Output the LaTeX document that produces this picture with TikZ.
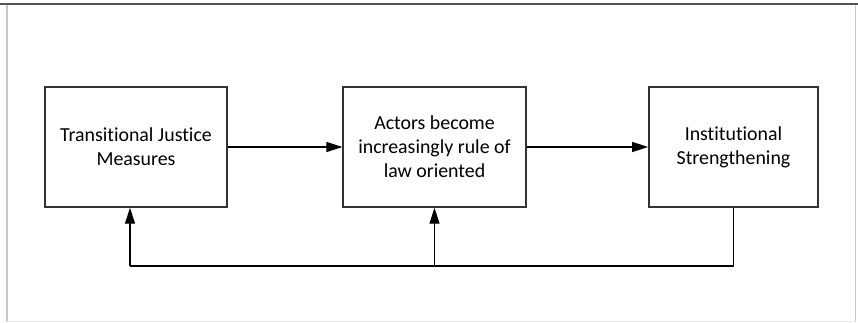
\documentclass[tikz,border=0pt]{standalone}
\usepackage{fontspec}
\setmainfont{Carlito}[Ligatures=NoCommon]
\usetikzlibrary{arrows.meta,positioning}
\definecolor{tjframe}{HTML}{555555}
\definecolor{tjedge}{HTML}{C8C8C8}
\definecolor{tjbox}{HTML}{333333}

\begin{document}
\begin{tikzpicture}[x=0.75pt,y=-0.75pt,
    measure/.style={draw=tjbox, line width=1.1pt, align=center, inner sep=0pt,
      minimum height=90pt, font=\fontsize{14.9}{18}\selectfont},
    flow/.style={-{Triangle[length=12pt,width=7.5pt]}, line width=0.9pt}]
  \useasboundingbox (0,0) rectangle (858,322);
  % frame of the page
  \draw[tjframe, line width=1.6pt] (0,4) -- (858,4);
  \draw[tjedge, line width=1pt] (7,5) -- (7,322);
  \draw[tjedge, line width=1pt] (855.5,5) -- (855.5,322);
  \draw[tjedge!40, line width=0.6pt] (7,321) -- (855.5,321);
  % the three stages
  \node[measure, minimum width=136.5pt] (tj) at (136,147)
    {Transitional Justice\\Measures};
  \node[measure, minimum width=137pt] (actors) at (434.5,147)
    {Actors become\\increasingly rule of\\law oriented};
  \node[measure, minimum width=127pt] (inst) at (733.5,147)
    {Institutional\\Strengthening};
  \draw[flow] (tj) -- (actors);
  \draw[flow] (actors) -- (inst);
  % feedback
  \coordinate (back) at (733.5,266);
  \coordinate (turn) at (130,266);
  \draw[line width=0.9pt] (inst.south) -- (back) -- (turn);
  \draw[flow] (turn) -- (turn |- tj.south);
  \draw[flow] (actors.south |- back) -- (actors.south);
\end{tikzpicture}
\end{document}
